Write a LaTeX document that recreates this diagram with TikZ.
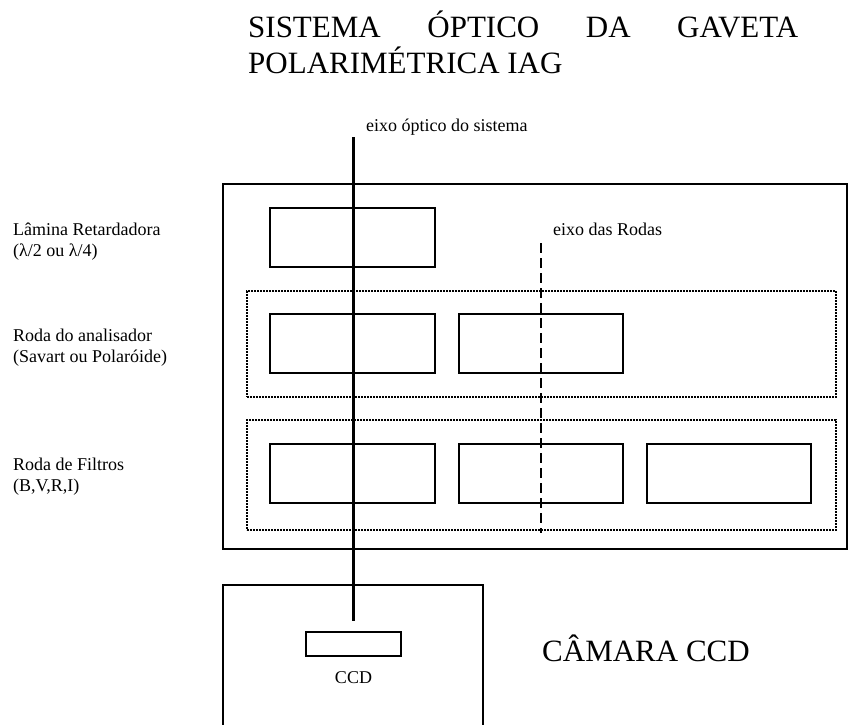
\documentclass[tikz,border=0pt]{standalone}
\usepackage{fontspec}
\setmainfont{Liberation Serif}
\begin{document}
\begin{tikzpicture}[x=1pt,y=-1pt,
  solidbox/.style={draw=black, line width=2.4pt, inner sep=0pt, outer sep=0pt},
  dotbox/.style={draw=black, line width=2.2pt, dash pattern=on 1.7pt off 1.3pt, inner sep=0pt, outer sep=0pt},
  axisline/.style={draw=black, line width=2.4pt},
  wheelaxis/.style={draw=black, line width=2.5pt, dash pattern=on 10pt off 5pt},
  small/.style={inner sep=0pt, font=\fontsize{18}{20.5}\selectfont},
  big/.style={inner sep=0pt, font=\fontsize{31}{36}\selectfont}]
\useasboundingbox (0,0) rectangle (848,724);
% title
\node[big, anchor=base west] (title1) at (248,37) {\hbox to 550pt{SISTEMA\hfill ÓPTICO\hfill DA\hfill GAVETA}};
\node[big, anchor=base west] (title2) at (248,73) {POLARIMÉTRICA IAG};
% drawer
\node[solidbox, minimum width=624pt, minimum height=365pt] (gaveta) at (535,366.5) {};
\node[solidbox, minimum width=165pt, minimum height=59pt] (lamina) at (352.5,237.5) {};
\node[dotbox, minimum width=589pt, minimum height=106pt] (rodaA) at (541.5,344) {};
\node[solidbox, minimum width=165pt, minimum height=59pt] (an1) at (352.5,343.5) {};
\node[solidbox, minimum width=164pt, minimum height=59pt] (an2) at (541,343.5) {};
\node[dotbox, minimum width=589pt, minimum height=110pt] (rodaF) at (541.5,475) {};
\node[solidbox, minimum width=165pt, minimum height=59pt] (f1) at (352.5,473.5) {};
\node[solidbox, minimum width=164pt, minimum height=59pt] (f2) at (541,473.5) {};
\node[solidbox, minimum width=164pt, minimum height=59pt] (f3) at (729,473.5) {};
% camera
\node[solidbox, minimum width=260pt, minimum height=160pt] (camera) at (353,665) {};
\node[solidbox, minimum width=95pt, minimum height=24pt] (ccd) at (353.5,644) {};
\node[small, anchor=base] (ccdlabel) at (353.5,683) {CCD};
\node[big, anchor=base west] (camlabel) at (542,661) {CÂMARA CCD};
% axes
\coordinate (axtop) at (353.5,137);
\coordinate (axbot) at (353.5,621);
\draw[axisline] (axtop) -- (axbot);
\node[small, anchor=base west] (axlabel) at (366,131) {eixo óptico do sistema};
\coordinate (whtop) at (541,243);
\coordinate (whbot) at (541,533);
\draw[wheelaxis] (whtop) -- (whbot);
\node[small, anchor=base west] (whlabel) at (553,235) {eixo das Rodas};
% left labels (base = last line)
\node[small, anchor=base west, align=left] (lbl1) at (13,256) {Lâmina Retardadora\\(λ/2 ou λ/4)};
\node[small, anchor=base west, align=left] (lbl2) at (13,362) {Roda do analisador\\(Savart ou Polaróide)};
\node[small, anchor=base west, align=left] (lbl3) at (13,491) {Roda de Filtros\\(B,V,R,I)};
\end{tikzpicture}
\end{document}
